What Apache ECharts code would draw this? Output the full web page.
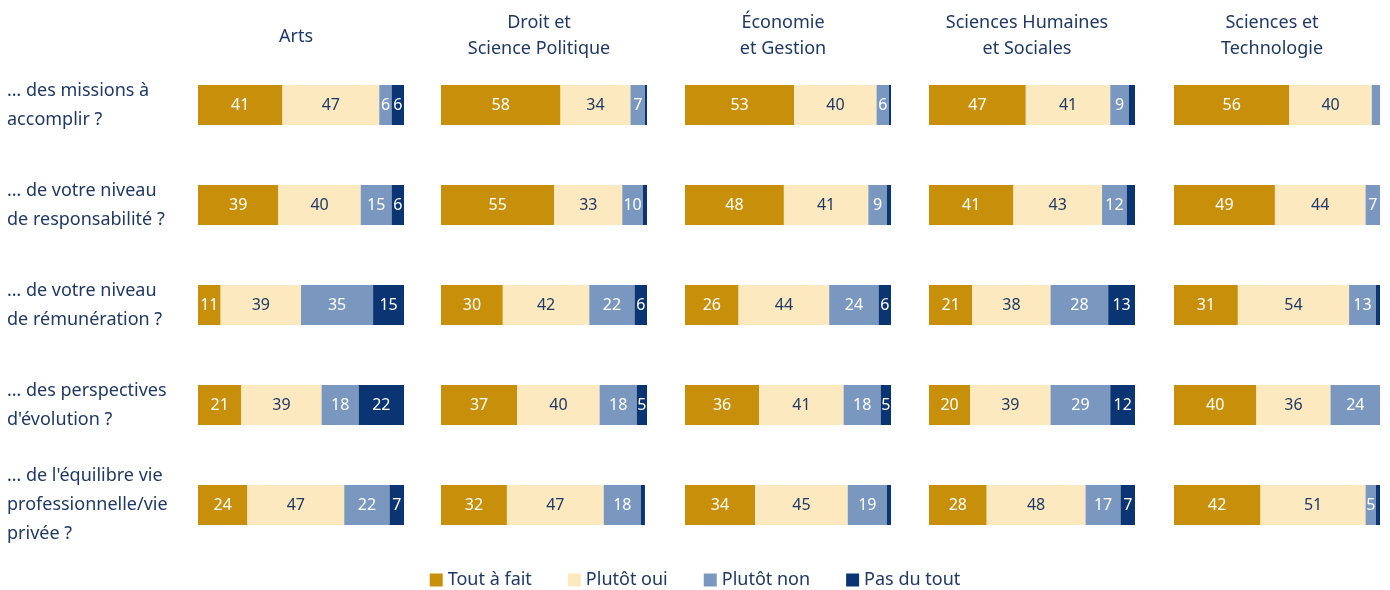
<!DOCTYPE html>
<html><head><meta charset="utf-8">
<script src="https://cdn.jsdelivr.net/npm/echarts@6/dist/echarts.min.js"></script>
<style>html,body{margin:0;padding:0;background:#fff}#c{width:1390px;height:590px}</style>
</head><body><div id="c"></div>
<script>
const panels = ['Arts', 'Droit et\nScience Politique', 'Économie\net Gestion', 'Sciences Humaines\net Sociales', 'Sciences et\nTechnologie'];
const questions = ['… des missions à\naccomplir ?', '… de votre niveau\nde responsabilité ?', '… de votre niveau\nde rémunération ?', '… des perspectives\nd\'évolution ?', '… de l\'équilibre vie\nprofessionnelle/vie\nprivée ?'];
const seriesNames = ['Tout à fait', 'Plutôt oui', 'Plutôt non', 'Pas du tout'];
// values per panel (Arts, Droit, Économie, SHS, ST), rows in question order
const toutAFait = [[41,39,11,21,24],[58,55,30,37,32],[53,48,26,36,34],[47,41,21,20,28],[56,49,31,40,42]];
const plutotOui = [[47,40,39,39,47],[34,33,42,40,47],[40,41,44,41,45],[41,43,38,39,48],[40,44,54,36,51]];
const plutotNon = [[6,15,35,18,22],[7,10,22,18,18],[6,9,24,18,19],[9,12,28,29,17],[4,7,13,24,5]];
const pasDuTout = [[6,6,15,22,7],[1,2,6,5,2],[1,2,6,5,2],[3,4,13,12,7],[0,0,2,0,2]];

const allValues = [toutAFait, plutotOui, plutotNon, pasDuTout];
const colors = ['#C8900A', '#FDE9C0', '#7A98BF', '#0B3472'];
const labelColors = ['#ffffff', '#1F3864', '#ffffff', '#ffffff'];
const navy = '#1F3864';
const font = 'Noto Sans';
const lefts = [198, 441, 685, 929, 1174];
const W = 206;

const grid = [], xAxis = [], yAxis = [], series = [], title = [];
panels.forEach((p, i) => {
  grid.push({left: lefts[i], top: 55, width: W, height: 500});
  xAxis.push({type: 'value', gridIndex: i, min: 0, max: 100, show: false});
  yAxis.push({type: 'category', gridIndex: i, data: questions, inverse: true,
    axisLine: {show: false}, axisTick: {show: false}, splitLine: {show: false},
    axisLabel: i === 0 ? {show: true, align: 'left', margin: 191, color: navy, fontFamily: font, fontSize: 18, lineHeight: 29} : {show: false}});
  const lines = p.split('\n');
  title.push({text: p, left: lefts[i] + W / 2 - 5, textAlign: 'center', top: lines.length === 1 ? 24 : 10, padding: 0,
    textStyle: {color: navy, fontFamily: font, fontSize: 18, fontWeight: 'normal', lineHeight: 26}});
  seriesNames.forEach((s, k) => {
    series.push({
      name: s, type: 'bar', stack: 'p' + i, xAxisIndex: i, yAxisIndex: i,
      barWidth: 40, data: allValues[k][i],
      itemStyle: {color: colors[k]},
      label: {show: true, position: 'inside', color: labelColors[k], fontFamily: font, fontSize: 16,
        formatter: v => v.value >= 5 ? String(v.value) : ''},
      emphasis: {disabled: true}, animation: false
    });
  });
});

const chart = echarts.init(document.getElementById('c'));
chart.setOption({
  animation: false,
  title,
  grid, xAxis, yAxis, series,
  legend: {data: seriesNames, bottom: 1, left: 'center', padding: 0, icon: 'rect', itemWidth: 13, itemHeight: 13, itemGap: 36,
    textStyle: {color: navy, fontFamily: font, fontSize: 18}}
});
</script></body></html>
